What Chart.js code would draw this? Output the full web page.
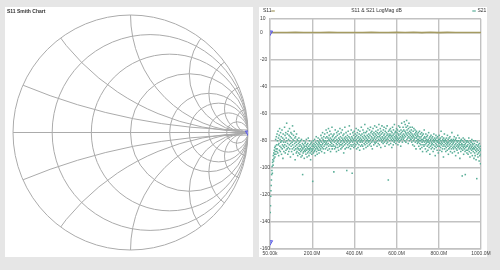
<!DOCTYPE html>
<html>
<head>
<meta charset="utf-8">
<script src="https://cdn.jsdelivr.net/npm/chart.js@4.4.0/dist/chart.umd.min.js"></script>
<style>
html, body { margin: 0; padding: 0; width: 500px; height: 270px; overflow: hidden; background: #e6e6e6; }
.panel { position: absolute; background: #fff; }
canvas { position: absolute; }
</style>
</head>
<body>
<div class="panel" style="left:5px;top:7px;width:248px;height:250px"></div>
<div class="panel" style="left:259px;top:7px;width:228px;height:250px"></div>
<canvas id="smith" width="248" height="251" style="left:5px;top:7px"></canvas>
<canvas id="logmag" width="236" height="251" style="left:258px;top:7px"></canvas>
<script>
// sweep (MHz)
var freqStart = 0.05;
var freqStop = 1000;

// S11 LogMag dB (coarse, 40 MHz steps)
var s11 = [0, 0, 0, 0.1, 0, 0, 0, 0.1, 0, 0, 0, 0, 0.1, 0, 0, 0.1, 0, 0.2, -0.1, 0.2, -0.1, 0.1, 0, 0, 0, 0];

// S21 LogMag dB
var s21 = [
  -155,-133,-128,-121,-117,-113,-109,-105,-102,-99,-104,-96,-94,-98,-91,-95,-89,-93,-87,-90,-85,-92,-88,-84,-79,-90,-86,-77,-83,-88,
  -75,-86,-80,-89,-73,-83,-78,-91,-82,-76,-87,-71,-84,-79,-88,-74,-81,-85,-77,-90,-80,-72,-86,-83,-78,-93,-75,-84,-81,-88,
  -79,-85,-70,-83,-76,-89,-81,-74,-87,-78,-84,-67,-80,-86,-75,-82,-90,-73,-85,-79,-88,-76,-83,-71,-86,-80,-77,-92,-82,-74,
  -84,-78,-88,-75,-81,-86,-69,-83,-79,-90,-76,-85,-80,-73,-87,-82,-78,-94,-84,-77,-86,-81,-89,-75,-83,-88,-79,-85,-91,-80,
  -86,-82,-89,-78,-84,-87,-81,-90,-83,-86,-80,-88,-92,-84,-79,-87,-85,-91,-82,-105,-86,-89,-83,-88,-80,-85,-93,-84,-87,-82,
  -88,-81,-86,-90,-84,-79,-87,-83,-92,-85,-89,-82,-86,-78,-88,-84,-91,-86,-80,-87,-83,-89,-85,-94,-82,-86,-88,-81,-90,-84,
  -87,-83,-110,-86,-80,-89,-84,-82,-88,-85,-79,-87,-83,-91,-81,-86,-84,-77,-88,-82,-85,-90,-80,-86,-83,-78,-87,-84,-81,-89,
  -82,-85,-79,-87,-83,-80,-86,-76,-84,-81,-88,-78,-83,-85,-74,-82,-79,-86,-80,-77,-84,-81,-89,-75,-83,-80,-86,-78,-82,-72,
  -81,-85,-77,-83,-74,-80,-87,-78,-82,-71,-84,-79,-76,-86,-80,-73,-83,-78,-88,-81,-75,-84,-79,-82,-70,-86,-77,-80,-84,-76,
  -83,-79,-103,-75,-81,-86,-78,-84,-72,-80,-85,-77,-82,-88,-74,-79,-83,-76,-81,-85,-73,-80,-87,-78,-82,-75,-84,-79,-71,-83,
  -77,-81,-86,-74,-80,-83,-78,-85,-72,-82,-79,-76,-84,-80,-89,-75,-81,-78,-83,-70,-86,-79,-77,-82,-74,-80,-85,-102,-78,-81,
  -76,-83,-79,-73,-85,-80,-77,-82,-69,-84,-78,-81,-75,-86,-79,-83,-72,-80,-77,-84,-104,-78,-81,-74,-83,-79,-76,-85,-80,-73,
  -82,-78,-84,-75,-80,-77,-83,-71,-79,-86,-76,-81,-74,-82,-78,-85,-72,-80,-77,-83,-75,-79,-87,-73,-81,-78,-84,-76,-80,-70,
  -79,-83,-75,-81,-77,-84,-72,-80,-78,-86,-74,-82,-76,-79,-68,-83,-77,-81,-74,-85,-78,-80,-73,-82,-76,-79,-84,-71,-80,-77,
  -81,-75,-78,-83,-72,-80,-76,-82,-70,-79,-74,-84,-77,-81,-73,-78,-86,-75,-80,-71,-79,-76,-83,-74,-78,-81,-69,-77,-82,-75,
  -79,-73,-81,-76,-70,-78,-84,-74,-80,-77,-72,-82,-75,-79,-68,-77,-83,-74,-80,-76,-71,-78,-85,-73,-79,-75,-81,-69,-77,-80,
  -74,-78,-82,-72,-79,-76,-70,-81,-75,-78,-84,-73,-77,-80,-71,-79,-74,-82,-76,-69,-78,-81,-75,-79,-109,-73,-77,-83,-76,-72,
  -80,-75,-78,-71,-82,-76,-73,-79,-77,-85,-74,-80,-70,-78,-76,-83,-72,-79,-75,-81,-68,-77,-80,-74,-78,-73,-82,-76,-79,-71,
  -77,-74,-80,-72,-78,-83,-75,-79,-69,-76,-81,-73,-78,-70,-80,-75,-77,-84,-72,-79,-74,-67,-78,-76,-81,-73,-77,-70,-79,-75,
  -72,-78,-66,-76,-80,-73,-68,-77,-74,-81,-70,-75,-65,-79,-72,-76,-69,-78,-74,-82,-71,-77,-67,-75,-80,-73,-78,-70,-76,-79,
  -74,-79,-72,-77,-81,-75,-70,-78,-83,-76,-73,-80,-77,-71,-79,-84,-75,-78,-72,-81,-76,-74,-86,-78,-73,-80,-77,-75,-82,-79,
  -76,-81,-74,-79,-84,-77,-80,-73,-82,-78,-86,-75,-80,-83,-77,-79,-74,-85,-81,-76,-88,-79,-83,-75,-80,-78,-84,-72,-81,-77,
  -83,-78,-86,-80,-75,-82,-79,-88,-77,-81,-84,-76,-80,-87,-79,-83,-74,-81,-85,-78,-82,-90,-77,-80,-84,-79,-76,-86,-81,-83,
  -78,-82,-85,-77,-80,-88,-79,-83,-75,-81,-86,-80,-78,-84,-91,-79,-82,-76,-85,-80,-83,-78,-87,-81,-77,-84,-80,-89,-79,-82,
  -81,-76,-84,-79,-87,-82,-78,-85,-80,-73,-83,-81,-88,-77,-82,-86,-79,-84,-80,-92,-78,-83,-81,-75,-86,-80,-84,-79,-82,-88,
  -80,-85,-78,-83,-81,-87,-76,-82,-84,-79,-90,-81,-86,-78,-83,-80,-85,-77,-82,-88,-80,-84,-79,-86,-81,-74,-83,-89,-80,-85,
  -82,-79,-86,-81,-84,-77,-88,-80,-83,-85,-79,-91,-82,-78,-86,-84,-80,-87,-81,-83,-76,-85,-89,-80,-84,-82,-78,-86,-83,-93,
  -81,-85,-80,-88,-83,-79,-86,-82,-84,-106,-80,-87,-83,-78,-85,-90,-81,-84,-86,-79,-83,-88,-105,-82,-85,-80,-87,-84,-81,-89,
  -84,-80,-87,-83,-90,-81,-86,-78,-85,-88,-82,-84,-92,-80,-86,-83,-89,-81,-85,-87,-79,-84,-91,-82,-86,-83,-88,-80,-85,-93,
  -86,-82,-89,-84,-91,-80,-87,-85,-94,-83,-88,-108,-86,-81,-90,-84,-92,-87,-83,-89,-85,-95,-82,-88,-91,-86,-84,-97,-87,-90
];

var xTicks = [0.05, 200, 400, 600, 800, 1000];
var xTickLabels = ["50.00k", "200.0M", "400.0M", "600.0M", "800.0M", "1000.0M"];
var yTicks = [10, 0, -20, -40, -60, -80, -100, -120, -140, -160];

// smith chart grid values
var smithR = [0.2, 0.5, 1, 2, 3, 5, 10];
var smithX = [0.2, 0.5, 1, 2, 3, 5, 10];

var s11Color = "#a59b62";
var s21Color = "#5aae98";
var markerFill = "rgba(140,140,255,0.55)";
var markerLine = "#5a5ae6";
var gridColor = "#c2c2c2";
var smallFont = '5px "Liberation Sans", Arial, sans-serif';

function sweep(n) {
    var f = [];
    for (var i = 0; i < n; i++) f.push(freqStart + i * (freqStop - freqStart) / (n - 1));
    return f;
}

var smithGrid = {
    id: 'smithGrid',
    beforeDatasetsDraw: function (chart) {
        var ctx = chart.ctx;
        var sx = chart.scales.x, sy = chart.scales.y;
        var cx = sx.getPixelForValue(0), cy = sy.getPixelForValue(0);
        var R = sx.getPixelForValue(1) - cx;
        ctx.save();
        ctx.strokeStyle = "#ababab";
        ctx.lineWidth = 1;
        ctx.beginPath();
        ctx.arc(cx, cy, R, 0, Math.PI * 2);
        ctx.stroke();
        ctx.clip();
        smithR.forEach(function (r) {
            ctx.beginPath();
            ctx.arc(sx.getPixelForValue(r / (1 + r)), cy, R / (1 + r), 0, Math.PI * 2);
            ctx.stroke();
        });
        smithX.forEach(function (x) {
            [x, -x].forEach(function (v) {
                ctx.beginPath();
                ctx.arc(sx.getPixelForValue(1), sy.getPixelForValue(1 / v), R / x, 0, Math.PI * 2);
                ctx.stroke();
            });
        });
        ctx.beginPath();
        ctx.moveTo(sx.getPixelForValue(-1), cy);
        ctx.lineTo(sx.getPixelForValue(1), cy);
        ctx.stroke();
        ctx.restore();

        ctx.save();
        ctx.font = 'bold ' + smallFont;
        ctx.fillStyle = "#333";
        ctx.textBaseline = 'middle';
        ctx.fillText("S11 Smith Chart", 2, 5);
        ctx.restore();
    }
};

new Chart(document.getElementById('smith'), {
    type: 'scatter',
    data: {
        datasets: [{
            label: 'S11',
            data: [{ x: Math.pow(10, s11[0] / 20), y: 0 }],
            pointStyle: 'triangle',
            rotation: 180,
            pointRadius: 3,
            backgroundColor: markerFill,
            borderColor: markerLine,
            borderWidth: 1
        }]
    },
    options: {
        responsive: false,
        animation: false,
        layout: { padding: { left: 8, right: 4, top: 7.5, bottom: 7.5 } },
        scales: {
            x: { type: 'linear', min: -1, max: 1, display: false },
            y: { type: 'linear', min: -1, max: 1, display: false }
        },
        plugins: { legend: { display: false }, tooltip: { enabled: false } }
    },
    plugins: [smithGrid]
});

var freqs21 = sweep(s21.length);
var freqs11 = sweep(s11.length);

var headerPlugin = {
    id: 'header',
    afterDraw: function (chart) {
        var ctx = chart.ctx;
        var a = chart.chartArea;
        ctx.save();
        ctx.font = smallFont;
        ctx.fillStyle = "#333";
        ctx.textBaseline = 'middle';
        ctx.textAlign = 'center';
        ctx.fillText("S11 & S21 LogMag dB", (a.left + a.right) / 2 + 1, 4);
        ctx.textAlign = 'left';
        ctx.fillText("S11", 5, 4);
        ctx.fillText("S21", 219.5, 4);
        ctx.lineWidth = 1.2;
        ctx.strokeStyle = s11Color;
        ctx.beginPath(); ctx.moveTo(13.3, 4); ctx.lineTo(16.8, 4); ctx.stroke();
        ctx.strokeStyle = s21Color;
        ctx.beginPath(); ctx.moveTo(214.3, 4); ctx.lineTo(217.8, 4); ctx.stroke();
        ctx.restore();
    }
};

new Chart(document.getElementById('logmag'), {
    type: 'scatter',
    data: {
        datasets: [{
            label: 'S21 marker',
            data: [{ x: freqs21[0], y: s21[0] }],
            pointStyle: 'triangle',
            rotation: 180,
            pointRadius: 3,
            backgroundColor: markerFill,
            borderColor: markerLine,
            borderWidth: 1
        }, {
            label: 'S11 marker',
            data: [{ x: freqs11[0], y: s11[0] }],
            pointStyle: 'triangle',
            rotation: 180,
            pointRadius: 3,
            backgroundColor: markerFill,
            borderColor: markerLine,
            borderWidth: 1
        }, {
            label: 'S11',
            data: s11.map(function (v, i) { return { x: freqs11[i], y: v }; }),
            showLine: true,
            borderColor: s11Color,
            borderWidth: 1.6,
            pointRadius: 0
        }, {
            label: 'S21',
            data: s21.map(function (v, i) { return { x: freqs21[i], y: v }; }),
            pointStyle: 'rect',
            pointRadius: 1.1,
            borderWidth: 0,
            backgroundColor: s21Color
        }]
    },
    options: {
        responsive: false,
        animation: false,
        layout: { padding: { left: 2, right: 13, top: 12, bottom: 0 } },
        scales: {
            x: {
                type: 'linear', min: 0, max: 1000,
                afterBuildTicks: function (s) { s.ticks = xTicks.map(function (v) { return { value: v }; }); },
                afterFit: function (s) { s.height = 9; },
                grid: { color: gridColor, lineWidth: 1.4, drawTicks: false },
                border: { color: gridColor, width: 1.4 },
                ticks: {
                    autoSkip: false, maxRotation: 0, minRotation: 0, padding: 2,
                    color: "#444", font: { family: '"Liberation Sans", Arial, sans-serif', size: 5 },
                    callback: function (v, i) { return xTickLabels[i]; }
                }
            },
            y: {
                type: 'linear', min: -160, max: 10,
                afterBuildTicks: function (s) { s.ticks = yTicks.map(function (v) { return { value: v }; }); },
                afterFit: function (s) { s.width = 10; },
                grid: { color: gridColor, lineWidth: 1.4, drawTicks: false },
                border: { color: gridColor, width: 1.4 },
                ticks: {
                    autoSkip: false, crossAlign: 'far', padding: 0,
                    color: "#444", font: { family: '"Liberation Sans", Arial, sans-serif', size: 5 }
                }
            }
        },
        plugins: { legend: { display: false }, tooltip: { enabled: false } }
    },
    plugins: [headerPlugin]
});
</script>
</body>
</html>
